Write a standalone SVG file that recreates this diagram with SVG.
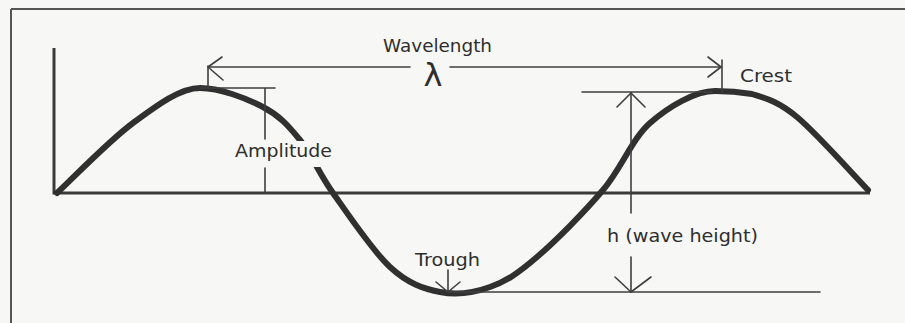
<svg xmlns="http://www.w3.org/2000/svg" width="905" height="323" viewBox="0 0 905 323">
  <style>
    .thin { stroke: #3f3f3f; stroke-width: 1.6; fill: none; stroke-linecap: round; stroke-linejoin: round; }
    .axis { stroke: #3a3a3a; stroke-width: 3; fill: none; }
    .wave { stroke: #303030; stroke-width: 6; fill: none; stroke-linecap: round; stroke-linejoin: round; }
    .lbl { font-family: "DejaVu Sans", "Liberation Sans", sans-serif; font-size: 18px; fill: #2e2e2e; }
  </style>
  <rect x="0" y="0" width="905" height="323" fill="#f7f7f5"/>
  <g id="frame">
    <path d="M11,9 H905 M11,9 V323" stroke="#555555" stroke-width="2" fill="none"/>
  </g>
  <g id="axes">
    <path class="axis" d="M54,48 V193 H870"/>
  </g>
  <g id="wave">
    <path class="wave" d="M57,193 C69.7,181.3 109.2,140.5 133,123 C156.8,105.5 180,88 200,88 C220,88 246.3,98.3 263,107 C279.7,115.7 288.3,125.7 300,140 C311.7,154.3 318,171.8 333,193 C348,214.2 372.2,250.5 390,267 C407.8,283.5 423.3,288.7 440,292 C456.7,295.3 473.8,292.8 490,287 C506.2,281.2 518.2,273.2 537,257 C555.8,240.8 584.2,212.3 603,190 C621.8,167.7 631.7,139.3 650,123 C668.7,106.5 695,91 715,91 C730,91 740,92 752,94 C765.7,98.3 777.7,101 797,117 C816.3,133 856.2,177.8 868,190"/>
  </g>
  <g id="connectors">
    <!-- wavelength -->
    <path class="thin" d="M208,88 V66 M208,67 H410 M450,67 H722 M722,92 V60"/>
    <path class="thin" d="M222,57 L208,67 L223,80"/>
    <path class="thin" d="M708,57 L721,67 L708,77"/>
    <!-- amplitude -->
    <path class="thin" d="M200,88 H275 M265,88 V139 M265,168 V193"/>
    <!-- wave height -->
    <path class="thin" d="M582,92 H712 M631,93 V213 M631,257 V292"/>
    <path class="thin" d="M617,107 L631,93 L645,107"/>
    <path class="thin" d="M615,277 L631,292 L651,277"/>
    <!-- trough -->
    <path class="thin" d="M448,270 V292 M448,292 H820"/>
    <path class="thin" d="M436,282 L448,292 L460,282"/>
  </g>
  <g id="label-amplitude">
    <rect x="229" y="141" width="108" height="26" fill="#f7f7f5"/>
    <text class="lbl" x="235" y="157" textLength="97" lengthAdjust="spacingAndGlyphs">Amplitude</text>
  </g>
  <g id="label-wavelength">
    <text class="lbl" x="383" y="52" textLength="109" lengthAdjust="spacingAndGlyphs">Wavelength</text>
    <text x="433" y="86" text-anchor="middle" font-family="DejaVu Sans, sans-serif" font-size="32" fill="#2e2e2e">λ</text>
  </g>
  <g id="label-crest">
    <text class="lbl" x="740" y="82" textLength="52" lengthAdjust="spacingAndGlyphs">Crest</text>
  </g>
  <g id="label-trough">
    <text class="lbl" x="415" y="266" textLength="65" lengthAdjust="spacingAndGlyphs">Trough</text>
  </g>
  <g id="label-height">
    <text class="lbl" x="607" y="242" textLength="151" lengthAdjust="spacingAndGlyphs">h (wave height)</text>
  </g>
</svg>
